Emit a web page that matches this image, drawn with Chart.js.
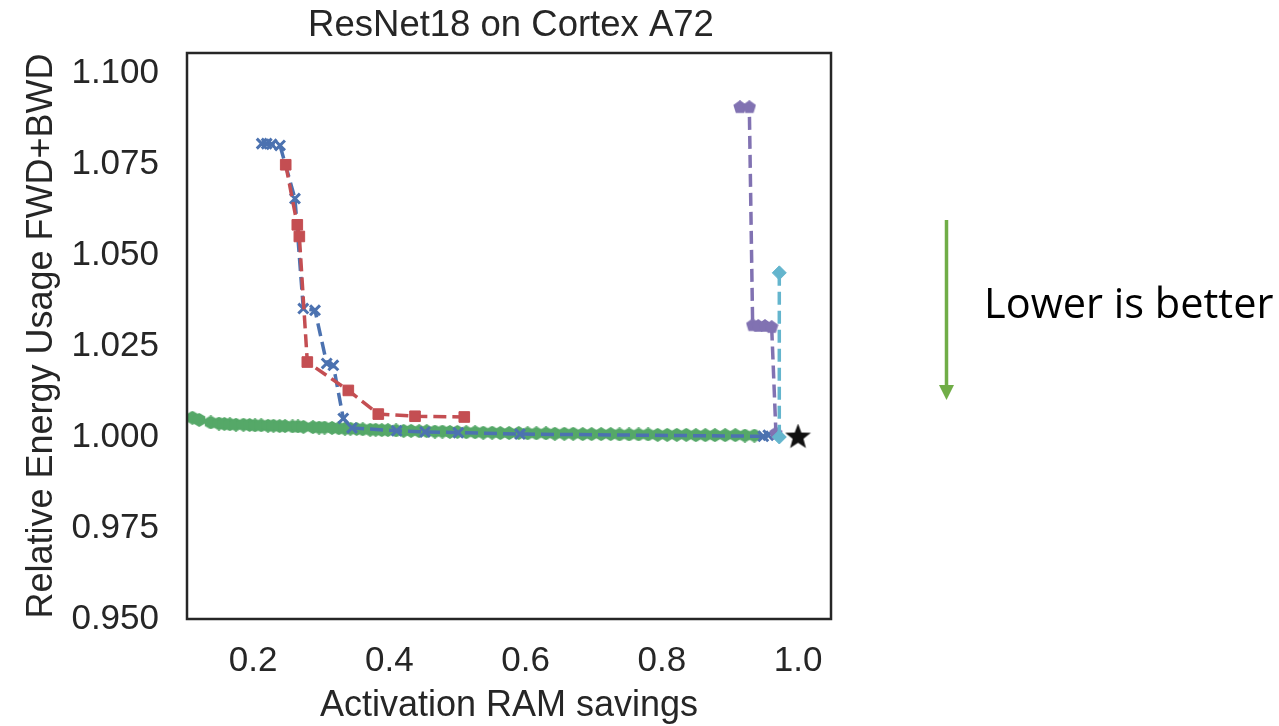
<!DOCTYPE html>
<html>
<head>
<meta charset="utf-8">
<title>ResNet18 on Cortex A72</title>
<script src="https://cdn.jsdelivr.net/npm/chart.js@4.4.1/dist/chart.umd.min.js"></script>
<style>
  html, body { margin: 0; padding: 0; background: #ffffff; }
  #wrap { position: relative; width: 1279px; height: 726px; }
</style>
</head>
<body>
<div id="wrap"><canvas id="energyChart"></canvas></div>
<script>
// axis ticks
var xTicks = [0.2, 0.4, 0.6, 0.8, 1.0];
var yTicks = [0.950, 0.975, 1.000, 1.025, 1.050, 1.075, 1.100];

// blue (x markers)
var blueX = [0.2128, 0.2201, 0.2274, 0.2396, 0.2616, 0.2738, 0.2910, 0.3082, 0.3179, 0.3325, 0.3453, 0.4109, 0.4525, 0.5013, 0.5919, 0.9490, 0.9563];
var blueY = [1.0806, 1.0806, 1.0804, 1.0801, 1.0655, 1.0353, 1.0348, 1.0202, 1.0197, 1.0051, 1.0025, 1.0017, 1.0014, 1.0012, 1.0008, 1.0002, 1.0005];

// red (squares)
var redX = [0.2480, 0.2650, 0.2680, 0.2797, 0.3399, 0.3839, 0.4378, 0.5101];
var redY = [1.0748, 1.0583, 1.0551, 1.0206, 1.0128, 1.0063, 1.0057, 1.0055];

// green (hexagons)
var greenX = [0.111, 0.121, 0.138, 0.150, 0.158, 0.166, 0.175, 0.186, 0.195, 0.203, 0.212, 0.222, 0.230, 0.239, 0.247, 0.258, 0.266, 0.274,
  0.288, 0.297, 0.305, 0.316, 0.326, 0.335, 0.343, 0.352, 0.361, 0.372, 0.380, 0.389, 0.398, 0.410, 0.421, 0.432, 0.444, 0.455,
  0.467, 0.478, 0.489, 0.500, 0.513, 0.526, 0.538, 0.551, 0.563, 0.576, 0.590, 0.603, 0.616, 0.630, 0.643, 0.657, 0.670, 0.684,
  0.697, 0.711, 0.725, 0.738, 0.752, 0.766, 0.780, 0.794, 0.808, 0.822, 0.836, 0.850, 0.864, 0.878, 0.893, 0.908, 0.922, 0.936];
var greenY = [1.0053, 1.0047, 1.0040, 1.0037, 1.0036, 1.0035, 1.0034, 1.0034, 1.0033, 1.0032, 1.0032, 1.0031, 1.0031, 1.0030, 1.0030, 1.0029, 1.0029, 1.0028,
  1.0027, 1.0026, 1.0026, 1.0025, 1.0024, 1.0023, 1.0023, 1.0022, 1.0021, 1.0020, 1.0020, 1.0019, 1.0019, 1.0018, 1.0017, 1.0017, 1.0016, 1.0016,
  1.0015, 1.0015, 1.0014, 1.0014, 1.0013, 1.0013, 1.0012, 1.0012, 1.0011, 1.0011, 1.0011, 1.0010, 1.0010, 1.0010, 1.0009, 1.0009, 1.0009, 1.0008,
  1.0008, 1.0008, 1.0008, 1.0007, 1.0007, 1.0007, 1.0007, 1.0006, 1.0006, 1.0006, 1.0006, 1.0005, 1.0005, 1.0005, 1.0005, 1.0005, 1.0004, 1.0004];

// purple (pentagons)
var purpleX = [0.9148, 0.9285, 0.9334, 0.9417, 0.9515, 0.9613, 0.9676];
var purpleY = [1.0906, 1.0906, 1.0307, 1.0305, 1.0305, 1.0302, 1.0010];

// cyan (diamonds)
var cyanX = [0.9725, 0.9725];
var cyanY = [1.0451, 1.0000];

// reference point (star)
var refX = [1.0];
var refY = [1.0];

function pts(xs, ys) {
    return xs.map(function(x, i) { return { x: x, y: ys[i] }; });
}

// little canvases used as marker shapes that Chart.js lacks
function polyMarker(size, color, n, innerRatio) {
    var c = document.createElement('canvas');
    c.width = size; c.height = size;
    var g = c.getContext('2d');
    var h = size / 2;
    var count = innerRatio ? n * 2 : n;
    g.fillStyle = color;
    g.beginPath();
    for (var k = 0; k < count; k++) {
        var r = (innerRatio && k % 2 === 1) ? h * innerRatio : h;
        var a = -Math.PI / 2 + k * 2 * Math.PI / count;
        var px = h + r * Math.cos(a), py = h + r * Math.sin(a);
        if (k === 0) g.moveTo(px, py); else g.lineTo(px, py);
    }
    g.closePath();
    g.fill();
    return c;
}

var TEXT = '#262626';
var dash = [13, 6];

var framePlugin = {
    id: 'frameAndNotes',
    afterDraw: function(chart) {
        var ctx = chart.ctx, a = chart.chartArea;
        ctx.save();
        ctx.strokeStyle = TEXT;
        ctx.lineWidth = 2.5;
        ctx.strokeRect(a.left, a.top, a.right - a.left, a.bottom - a.top);

        ctx.fillStyle = TEXT;
        ctx.font = '36.5px "Liberation Sans", Arial, sans-serif';
        ctx.textAlign = 'center';
        ctx.textBaseline = 'alphabetic';
        ctx.fillText('ResNet18 on Cortex A72', 511, 36);

        // side note with arrow
        ctx.fillStyle = '#000000';
        ctx.font = '41.5px "Open Sans", sans-serif';
        ctx.textAlign = 'left';
        ctx.fillText('Lower is better', 984, 318);

        ctx.strokeStyle = '#70AD47';
        ctx.fillStyle = '#70AD47';
        ctx.lineWidth = 3.5;
        ctx.beginPath();
        ctx.moveTo(946.5, 220);
        ctx.lineTo(946.5, 388);
        ctx.stroke();
        ctx.beginPath();
        ctx.moveTo(939, 385);
        ctx.lineTo(954, 385);
        ctx.lineTo(946.5, 400);
        ctx.closePath();
        ctx.fill();
        ctx.restore();
    }
};

var ctx = document.getElementById('energyChart').getContext('2d');
var chart = new Chart(ctx, {
    type: 'scatter',
    data: {
        datasets: [{
            label: 'reference',
            data: pts(refX, refY),
            showLine: false,
            pointStyle: polyMarker(27, '#111111', 5, 0.42),
            pointRadius: 13,
            backgroundColor: '#111111',
            borderColor: '#111111'
        }, {
            label: 'cyan',
            data: pts(cyanX, cyanY),
            showLine: true,
            borderColor: '#64B5CD',
            backgroundColor: '#64B5CD',
            borderWidth: 3.5,
            borderDash: dash,
            pointStyle: 'rectRot',
            pointRadius: 7,
            pointBorderWidth: 1
        }, {
            label: 'purple',
            data: pts(purpleX, purpleY),
            showLine: true,
            borderColor: '#8172B2',
            backgroundColor: '#8172B2',
            borderWidth: 3.5,
            borderDash: dash,
            pointStyle: polyMarker(14, '#8172B2', 5),
            pointRadius: 7
        }, {
            label: 'red',
            data: pts(redX, redY),
            showLine: true,
            borderColor: '#C44E52',
            backgroundColor: '#C44E52',
            borderWidth: 3.5,
            borderDash: dash,
            pointStyle: 'rect',
            pointRadius: 7.5,
            pointBorderWidth: 1
        }, {
            label: 'blue',
            data: pts(blueX, blueY),
            showLine: true,
            borderColor: '#4C72B0',
            backgroundColor: '#4C72B0',
            borderWidth: 3.5,
            borderDash: dash,
            pointStyle: 'crossRot',
            pointRadius: 7,
            pointBorderWidth: 3
        }, {
            label: 'green',
            data: pts(greenX, greenY),
            showLine: true,
            borderColor: '#55A868',
            backgroundColor: '#55A868',
            borderWidth: 4,
            borderDash: dash,
            pointStyle: polyMarker(14, '#55A868', 6),
            pointRadius: 7
        }]
    },
    options: {
        responsive: true,
        maintainAspectRatio: false,
        animation: false,
        layout: { padding: { top: 53, right: 448, bottom: 0, left: 0 } },
        plugins: {
            legend: { display: false },
            tooltip: { enabled: false }
        },
        scales: {
            x: {
                type: 'linear',
                min: 0.1031,
                max: 1.0484,
                grid: { display: false, drawTicks: false },
                border: { display: false },
                afterBuildTicks: function(scale) {
                    scale.ticks = xTicks.map(function(v) { return { value: v }; });
                },
                afterFit: function(scale) { scale.height = 107; },
                ticks: {
                    padding: 21,
                    color: TEXT,
                    font: { family: '"Liberation Sans", Arial, sans-serif', size: 35 },
                    callback: function(v) { return v.toFixed(1); }
                },
                title: {
                    display: true,
                    text: 'Activation RAM savings',
                    color: TEXT,
                    font: { family: '"Liberation Sans", Arial, sans-serif', size: 36 },
                    padding: { top: 0, bottom: -2 }
                }
            },
            y: {
                type: 'linear',
                min: 0.950,
                max: 1.1055,
                grid: { display: false, drawTicks: false },
                border: { display: false },
                afterBuildTicks: function(scale) {
                    scale.ticks = yTicks.map(function(v) { return { value: v }; });
                },
                afterFit: function(scale) { scale.width = 187; },
                ticks: {
                    padding: 28,
                    color: TEXT,
                    font: { family: '"Liberation Sans", Arial, sans-serif', size: 35 },
                    callback: function(v) { return v.toFixed(3); }
                },
                title: {
                    display: true,
                    text: 'Relative Energy Usage FWD+BWD',
                    color: TEXT,
                    font: { family: '"Liberation Sans", Arial, sans-serif', size: 36 },
                    padding: { top: 20, bottom: 0 }
                }
            }
        }
    },
    plugins: [framePlugin]
});
</script>
</body>
</html>
